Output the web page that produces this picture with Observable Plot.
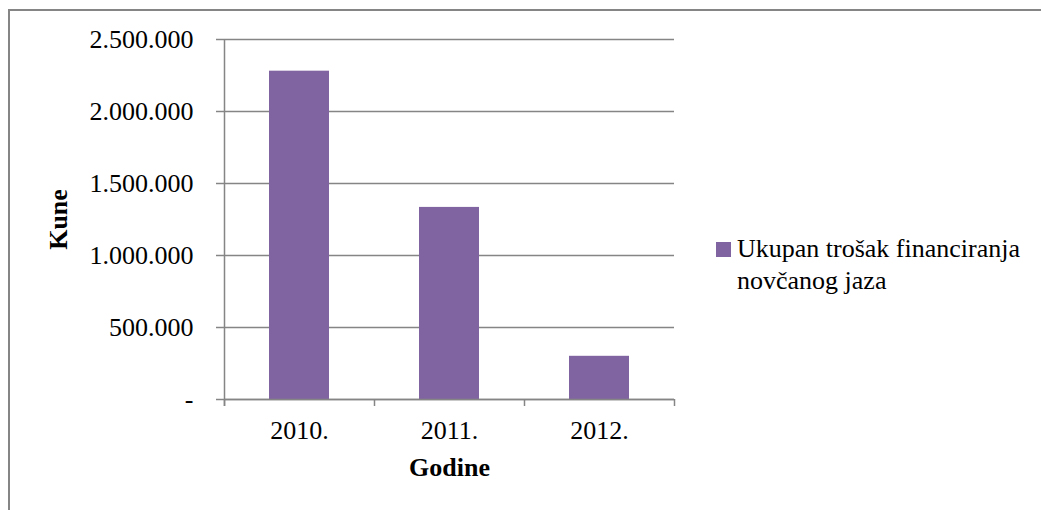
<!DOCTYPE html>
<html>
<head>
<meta charset="utf-8">
<script src="https://cdn.jsdelivr.net/npm/d3@7"></script>
<script src="https://cdn.jsdelivr.net/npm/@observablehq/plot@0.6"></script>
<style>
  html, body { margin: 0; padding: 0; background: #fff; overflow: hidden; }
  #wrap { position: relative; width: 1041px; height: 510px; overflow: hidden; font-family: "Liberation Serif", "Times New Roman", serif; }
  #border { position: absolute; left: 8px; top: 9px; width: 1100px; height: 600px; border: 2px solid #858585; box-sizing: border-box; }
  #chart { position: absolute; left: 0; top: 0; }
  #legend { position: absolute; left: 716px; top: 233px; font-size: 26px; line-height: 32px; color: #000; }
  #legend .sw { position: absolute; left: 0; top: 9px; width: 15px; height: 15px; background: #8064A2; }
  #legend .tx { margin-left: 21px; white-space: nowrap; }
</style>
</head>
<body>
<div id="wrap">
  <div id="border"></div>
  <div id="chart"></div>
  <div id="legend"></div>
</div>
<script>
const years = ["2010.", "2011.", "2012."];
const values = [2280000, 1334000, 300000];
const yTicks = [0, 500000, 1000000, 1500000, 2000000, 2500000];
const seriesName = ["Ukupan trošak financiranja", "novčanog jaza"];
const yTitle = "Kune";
const xTitle = "Godine";

const data = years.map((y, i) => ({year: y, value: values[i]}));
const gray = "#858585";
const purple = "#8064A2";
const W = 1041, H = 510, mL = 224, mR = 367, mT = 39, mB = 111;
const step = (W - mL - mR) / years.length;
const loc = d3.formatLocale({decimal: ",", thousands: ".", grouping: [3], currency: ["", ""]});
const fmt = loc.format(",");

const chart = Plot.plot({
  width: W, height: H,
  marginLeft: mL, marginRight: mR, marginTop: mT, marginBottom: mB,
  style: {fontFamily: '"Liberation Serif", "Times New Roman", serif', fontSize: "26px", background: "transparent", color: "#000"},
  x: {domain: years, paddingInner: 0.6, paddingOuter: 0.3, axis: null},
  y: {domain: [0, 2500000], axis: null},
  marks: [
    Plot.gridY(yTicks, {stroke: gray, strokeOpacity: 1, strokeWidth: 1.5}),
    Plot.barY(data, {x: "year", y: "value", fill: purple}),
    Plot.ruleX(years.slice(0, 1), {dx: -step / 2, stroke: gray, strokeWidth: 1.5, insetBottom: -7}),
    Plot.ruleX(years, {y1: 0, y2: 0, dx: -step / 2, stroke: gray, strokeWidth: 1.5, insetBottom: -7}),
    Plot.ruleX(years.slice(-1), {y1: 0, y2: 0, dx: step / 2, stroke: gray, strokeWidth: 1.5, insetBottom: -7}),
    Plot.ruleY([0], {stroke: gray, strokeWidth: 1.5}),
    Plot.axisY({ticks: yTicks, tickFormat: d => d === 0 ? "-" : fmt(d), tickSize: 8, tickPadding: 23, stroke: gray, strokeWidth: 1.5, fill: "#000", label: null}),
    Plot.axisX({tickSize: 0, tickPadding: 21, fill: "#000", label: null}),
    Plot.text([yTitle], {text: d => d, frameAnchor: "left", textAnchor: "middle", rotate: -90, dx: -166, fontWeight: "bold", fill: "#000"}),
    Plot.text([xTitle], {text: d => d, frameAnchor: "bottom", dy: 76, fontWeight: "bold", fill: "#000"})
  ]
});
document.getElementById("chart").appendChild(chart);

const lg = document.getElementById("legend");
lg.innerHTML = '<div class="sw"></div><div class="tx">' + seriesName.join("<br>") + '</div>';
</script>
</body>
</html>
